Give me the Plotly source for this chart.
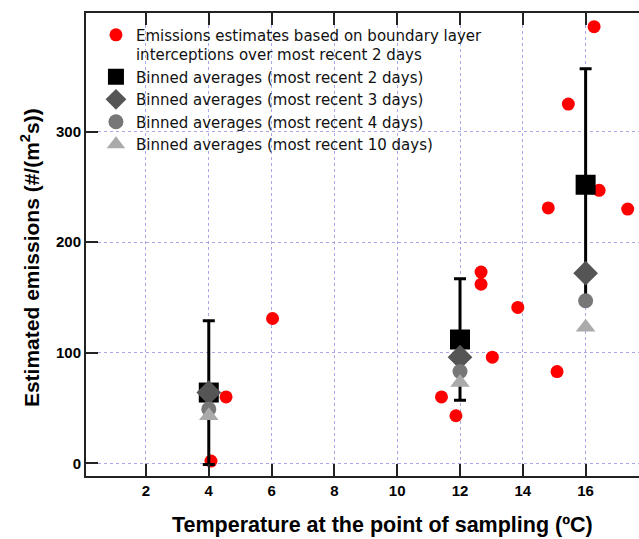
import plotly.graph_objects as go

# Red points: emissions estimates (most recent 2 days)
red_x = [4.07, 4.55, 6.03, 11.41, 11.87, 12.67, 12.67, 13.03, 13.84, 14.81, 15.09, 15.45, 16.27, 16.43, 17.34]
red_y = [2, 60, 131, 60, 43, 173, 162, 96, 141, 231, 83, 325, 395, 247, 230]

bin_x = [4, 12, 16]
avg2_y = [64, 112, 252]
avg2_err = [65, 55, 105]
avg3_y = [64, 96, 172]
avg4_y = [49, 83, 147]
avg10_y = [43, 73, 123]

x_ticks = [2, 4, 6, 8, 10, 12, 14, 16]
y_ticks = [0, 100, 200, 300]

x_title = "Temperature at the point of sampling (ºC)"
y_title = "Estimated emissions (#/(m<sup>2</sup>s))"

fig = go.Figure()
fig.add_trace(go.Scatter(
    x=red_x, y=red_y, mode="markers",
    marker=dict(color="#ff0000", size=13, symbol="circle"),
    name="Emissions estimates based on boundary layer<br>interceptions over most recent 2 days"))
fig.add_trace(go.Scatter(
    x=bin_x, y=avg2_y, mode="markers",
    marker=dict(color="#000000", size=20, symbol="square"),
    error_y=dict(type="data", array=avg2_err, color="#000000", thickness=3, width=6),
    name="Binned averages (most recent 2 days)"))
fig.add_trace(go.Scatter(
    x=bin_x, y=avg3_y, mode="markers",
    marker=dict(color="#555555", size=19, symbol="diamond"),
    name="Binned averages (most recent 3 days)"))
fig.add_trace(go.Scatter(
    x=bin_x, y=avg4_y, mode="markers",
    marker=dict(color="#777777", size=15, symbol="circle"),
    name="Binned averages (most recent 4 days)"))
fig.add_trace(go.Scatter(
    x=bin_x, y=avg10_y, mode="markers",
    marker=dict(color="#aaaaaa", size=17, symbol="triangle-up"),
    name="Binned averages (most recent 10 days)"))

tick_font = dict(family="Liberation Sans", size=15, color="#000000", weight="bold")
grid_common = dict(showgrid=True, gridcolor="#a8a8e8", griddash="dot", gridwidth=1, zeroline=False)
tick_common = dict(ticks="inside", ticklen=12, tickwidth=2, tickcolor="#222222")

y_range = [-11.5, 407.4]

fig.update_layout(
    width=639, height=539,
    margin=dict(l=86, r=0, t=13, b=63),
    paper_bgcolor="white", plot_bgcolor="white",
    showlegend=True,
    legend=dict(
        x=0.018, y=0.988, xanchor="left", yanchor="top",
        bgcolor="rgba(0,0,0,0)", borderwidth=0,
        font=dict(family="DejaVu Sans", size=15, color="#111111"),
        itemsizing="trace", valign="top", tracegroupgap=0,
    ),
    xaxis=dict(
        range=[0.09, 17.70], tickvals=x_ticks, ticktext=[str(v) for v in x_ticks],
        showline=True, linecolor="#222222", linewidth=2, mirror="ticks",
        tickfont=tick_font, **grid_common, **tick_common,
    ),
    yaxis=dict(
        range=y_range, tickvals=y_ticks, ticktext=[str(v) for v in y_ticks],
        showline=True, linecolor="#222222", linewidth=2, mirror=False,
        tickfont=tick_font, **grid_common, **tick_common,
    ),
    yaxis2=dict(
        range=y_range, tickvals=y_ticks, overlaying="y", side="right",
        showline=False, showticklabels=False, showgrid=False, zeroline=False,
        **tick_common,
    ),
    annotations=[
        dict(text=x_title, xref="paper", yref="paper", x=0.536, y=-0.106,
             xanchor="center", yanchor="middle", showarrow=False,
             font=dict(family="Liberation Sans", size=21.5, color="#000000", weight="bold")),
        dict(text=y_title, xref="paper", yref="paper", x=-0.101, y=0.471,
             xanchor="center", yanchor="middle", showarrow=False, textangle=-90,
             font=dict(family="Liberation Sans", size=21, color="#000000", weight="bold")),
    ],
)

fig.write_html("out.html")
